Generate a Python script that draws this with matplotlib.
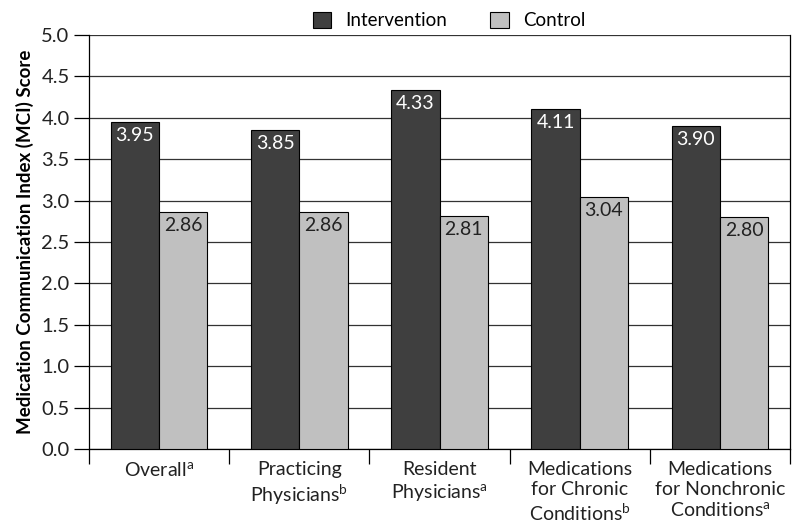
import numpy as np
import matplotlib

matplotlib.use("Agg")
import matplotlib.pyplot as plt

plt.rcParams["font.family"] = ["Lato", "DejaVu Sans"]
plt.rcParams["mathtext.fontset"] = "custom"
plt.rcParams["mathtext.rm"] = "Lato"

categories = [
    "Overall$^{\\mathrm{a}}$",
    "Practicing\nPhysicians$^{\\mathrm{b}}$",
    "Resident\nPhysicians$^{\\mathrm{a}}$",
    "Medications\nfor Chronic\nConditions$^{\\mathrm{b}}$",
    "Medications\nfor Nonchronic\nConditions$^{\\mathrm{a}}$",
]
intervention = [3.95, 3.85, 4.33, 4.11, 3.90]
control = [2.86, 2.86, 2.81, 3.04, 2.80]
yticks = [0.0, 0.5, 1.0, 1.5, 2.0, 2.5, 3.0, 3.5, 4.0, 4.5, 5.0]

fig = plt.figure(figsize=(7.92, 5.25), dpi=100)
ax = fig.add_axes([0.1124, 0.1448, 0.8851, 0.7885])

x = np.arange(len(categories))
w = 0.345
b1 = ax.bar(x - w / 2, intervention, w, color="#3f3f3f", edgecolor="black",
            linewidth=0.8, label="Intervention", zorder=3)
b2 = ax.bar(x + w / 2, control, w, color="#c0c0c0", edgecolor="black",
            linewidth=0.8, label="Control", zorder=3)

for rect, v in zip(b1, intervention):
    ax.text(rect.get_x() + rect.get_width() / 2, v - 0.06, f"{v:.2f}",
            ha="center", va="top", color="white", fontsize=14, zorder=4)
for rect, v in zip(b2, control):
    ax.text(rect.get_x() + rect.get_width() / 2, v - 0.06, f"{v:.2f}",
            ha="center", va="top", color="#222222", fontsize=14, zorder=4)

ax.set_xlim(-0.5, len(categories) - 0.5)
ax.set_ylim(0, 5.0)
ax.set_yticks(yticks)
ax.set_yticklabels([f"{t:.1f}" for t in yticks], fontsize=14.5, color="#222222")
ax.yaxis.grid(True, color="#333333", linewidth=0.9, zorder=0)
ax.tick_params(axis="y", length=11, width=0.9, color="black", pad=3)

ax.set_xticks(x)
ax.set_xticklabels(categories, fontsize=14, color="#222222", va="top",
                   linespacing=1.2)
ax.set_xticks(np.arange(len(categories) + 1) - 0.5, minor=True)
ax.tick_params(axis="x", which="major", length=0, pad=9)
ax.tick_params(axis="x", which="minor", length=11, width=0.9)

for s in ax.spines.values():
    s.set_linewidth(0.9)
ax.spines["top"].set_visible(False)

ax.set_ylabel("Medication Communication Index (MCI) Score", fontsize=13.5,
              fontweight="bold", labelpad=5)

fig.legend(handles=[b1, b2], loc="upper center", bbox_to_anchor=(0.567, 1.01),
           ncol=2, frameon=False, fontsize=13.5, handlelength=1.0,
           handleheight=1.0, columnspacing=2.3, handletextpad=0.75)

fig.savefig("out.png", dpi=100)
plt.close(fig)
